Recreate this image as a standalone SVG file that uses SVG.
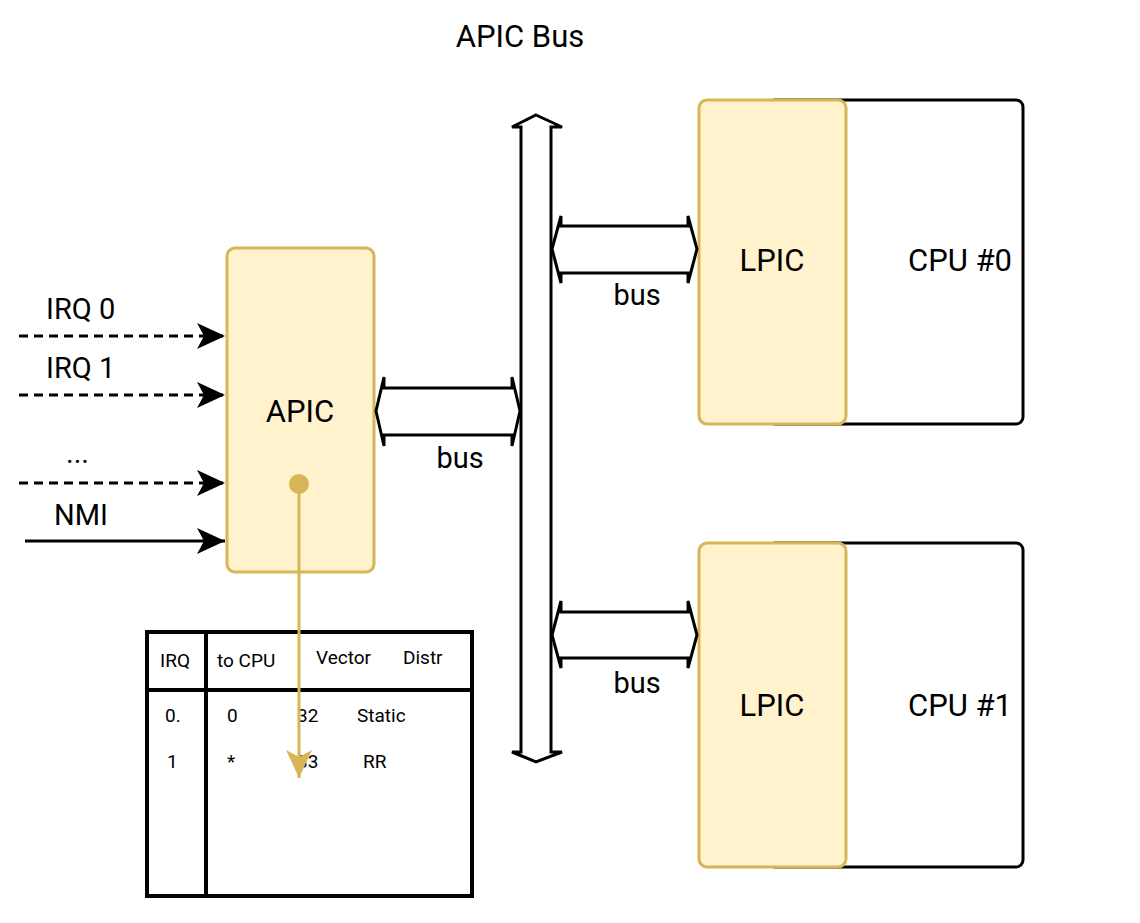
<svg xmlns="http://www.w3.org/2000/svg" width="1140" height="923" viewBox="0 0 1140 923">
<style>
.t{font-family:Roboto,"Liberation Sans",sans-serif;fill:#000}
.big{font-size:31px}
.mid{font-size:29px}
.sm{font-size:19px}
.gold{fill:#fff2cc;stroke:#d6b656;stroke-width:3}
.cpu{fill:#fff;stroke:#000;stroke-width:3}
.flex{fill:#fff;stroke:#000;stroke-width:3;stroke-linejoin:miter}
.in{stroke:#000;stroke-width:3;fill:none}
.dash{stroke-dasharray:9 6}
</style>
<defs>
<marker id="ah" markerUnits="userSpaceOnUse" markerWidth="30" markerHeight="30" refX="28" refY="13" orient="auto" viewBox="0 0 30 26">
<path d="M28,13 L0,0 L7,13 L0,26 Z" fill="#000"/>
</marker>
<marker id="ahg" markerUnits="userSpaceOnUse" markerWidth="30" markerHeight="30" refX="28" refY="13" orient="auto" viewBox="0 0 30 26">
<path d="M28,13 L0,0 L7,13 L0,26 Z" fill="#d6b656"/>
</marker>
</defs>
<rect width="1140" height="923" fill="#fff"/>
<text class="t big" x="520" y="47" text-anchor="middle">APIC Bus</text>

<g id="cpu0">
<rect class="cpu" x="768" y="100" width="255" height="324" rx="7"/>
<text class="t big" x="960" y="271" text-anchor="middle">CPU #0</text>
</g>
<g id="lpic0">
<rect class="gold" x="699" y="100" width="147" height="324" rx="8"/>
<text class="t big" x="772" y="271" text-anchor="middle">LPIC</text>
</g>
<g id="cpu1">
<rect class="cpu" x="768" y="543" width="255" height="324" rx="7"/>
<text class="t big" x="960" y="716" text-anchor="middle">CPU #1</text>
</g>
<g id="lpic1">
<rect class="gold" x="699" y="543" width="147" height="324" rx="8"/>
<text class="t big" x="772" y="716" text-anchor="middle">LPIC</text>
</g>
<g id="apic">
<rect class="gold" x="227" y="248" width="147" height="324" rx="8"/>
<text class="t big" x="300" y="422" text-anchor="middle">APIC</text>
</g>

<g id="table">
<rect x="147" y="632" width="325" height="264" fill="#fff" stroke="#000" stroke-width="4"/>
<line x1="206" y1="632" x2="206" y2="896" stroke="#000" stroke-width="4"/>
<line x1="147" y1="690" x2="472" y2="690" stroke="#000" stroke-width="4"/>
<text class="t sm" x="160" y="667">IRQ</text>
<text class="t sm" x="217" y="667">to CPU</text>
<text class="t sm" x="316" y="664">Vector</text>
<text class="t sm" x="403" y="664">Distr</text>
<text class="t sm" x="165" y="722">0.</text>
<text class="t sm" x="227" y="722">0</text>
<text class="t sm" x="297" y="722">32</text>
<text class="t sm" x="357" y="722">Static</text>
<text class="t sm" x="167" y="768">1</text>
<text class="t sm" x="227" y="768">*</text>
<text class="t sm" x="297" y="768">33</text>
<text class="t sm" x="363" y="768">RR</text>
</g>

<g id="connectors">
<polygon class="flex" points="536,115 562,127 551,127 551,752 562,752 536,762 512,752 521,752 521,127 512,127"/>
<polygon class="flex" points="552,249 561,216 561,226 688,226 688,216 697,249 688,283 688,273 561,273 561,283"/>
<polygon class="flex" points="376,411 384,377 384,388 512,388 512,377 520,411 512,446 512,435 384,435 384,446"/>
<polygon class="flex" points="552,635 561,601 561,612 688,612 688,601 697,635 688,668 688,658 561,658 561,668"/>
<text class="t mid" x="637" y="305" text-anchor="middle">bus</text>
<text class="t mid" x="460" y="468" text-anchor="middle">bus</text>
<text class="t mid" x="637" y="693" text-anchor="middle">bus</text>

<line class="in dash" x1="19" y1="336" x2="225" y2="336" marker-end="url(#ah)"/>
<line class="in dash" x1="19" y1="395" x2="225" y2="395" marker-end="url(#ah)"/>
<line class="in dash" x1="19" y1="483" x2="225" y2="483" marker-end="url(#ah)"/>
<line class="in" x1="25" y1="541" x2="225" y2="541" marker-end="url(#ah)"/>
<text class="t mid" x="46" y="319">IRQ 0</text>
<text class="t mid" x="46" y="378">IRQ 1</text>
<text class="t mid" x="66" y="463">...</text>
<text class="t mid" x="54" y="525">NMI</text>

<line x1="299" y1="484" x2="299" y2="778" stroke="#d6b656" stroke-width="3" marker-end="url(#ahg)"/>
<circle cx="299" cy="484" r="10" fill="#d6b656"/>
</g>
</svg>
